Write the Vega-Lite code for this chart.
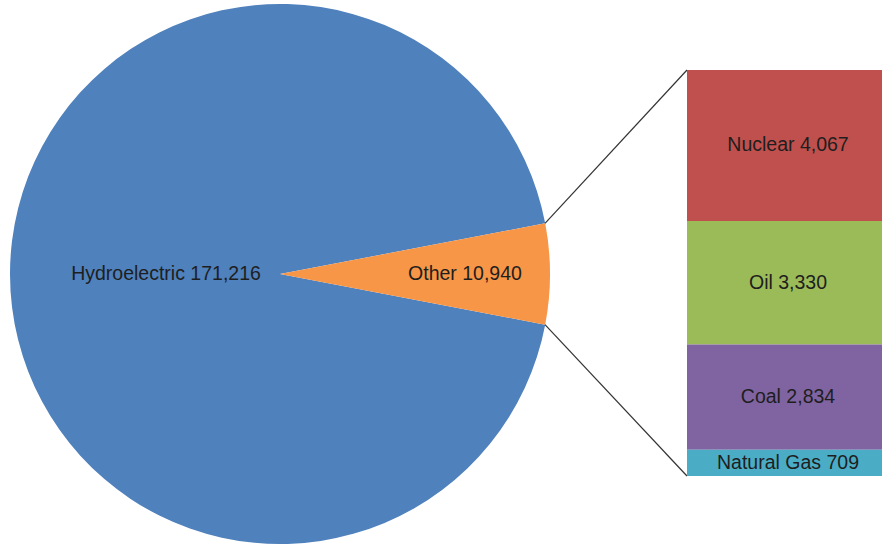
{
  "$schema": "https://vega.github.io/schema/vega-lite/v6.json",
  "padding": 0,
  "spacing": 0,
  "bounds": "flush",
  "background": "#ffffff",
  "config": {
    "view": {"stroke": null},
    "concat": {"spacing": 0},
    "text": {"font": "Liberation Sans", "fontSize": 19.5, "color": "#1e1e1e"}
  },
  "datasets": {
    "sources": [
      {"source": "Hydroelectric", "value": 171216},
      {"source": "Other", "value": 10940}
    ],
    "other": [
      {"source": "Nuclear", "value": 4067},
      {"source": "Oil", "value": 3330},
      {"source": "Coal", "value": 2834},
      {"source": "Natural Gas", "value": 709}
    ]
  },
  "hconcat": [
    {
      "width": 560,
      "height": 548,
      "data": {"name": "sources"},
      "transform": [{"calculate": "datum.source + ' ' + format(datum.value, ',')", "as": "label"}],
      "encoding": {
        "theta": {"field": "value", "type": "quantitative", "stack": true, "scale": {"range": [1.7595, 8.0427]}},
        "order": {"field": "value", "type": "quantitative", "sort": "descending"}
      },
      "layer": [
        {
          "mark": {"type": "arc", "outerRadius": 270},
          "encoding": {
            "color": {
              "field": "source", "type": "nominal", "legend": null,
              "scale": {
                "domain": ["Hydroelectric", "Other", "Nuclear", "Oil", "Coal", "Natural Gas"],
                "range": ["#4f81bd", "#f79646", "#c0504d", "#9bbb59", "#8064a2", "#4bacc6"]
              }
            }
          }
        },
        {
          "mark": {"type": "text", "radius": 114},
          "encoding": {
            "text": {"condition": {"test": "datum.source === 'Hydroelectric'", "field": "label", "type": "nominal"}, "value": ""}
          }
        },
        {
          "mark": {"type": "text", "radius": 185},
          "encoding": {
            "text": {"condition": {"test": "datum.source === 'Other'", "field": "label", "type": "nominal"}, "value": ""}
          }
        }
      ]
    },
    {
      "width": 322,
      "height": 544,
      "layer": [
        {
          "data": {"name": "sources"},
          "transform": [{"filter": "datum.source === 'Other'"}],
          "mark": {"type": "rule", "color": "#333333", "strokeWidth": 1.2},
          "encoding": {
            "y": {"field": "value", "type": "quantitative", "scale": {"domain": [-1832, 12826.5], "nice": false, "zero": false}, "axis": null},
            "y2": {"datum": 6807},
            "x": {"datum": 127, "type": "quantitative", "scale": {"domain": [0, 322], "nice": false, "zero": false}, "axis": null},
            "x2": {"datum": -15}
          }
        },
        {
          "data": {"name": "sources"},
          "transform": [{"filter": "datum.source === 'Other'"}],
          "mark": {"type": "rule", "color": "#333333", "strokeWidth": 1.2},
          "encoding": {
            "y": {"datum": 0, "type": "quantitative", "scale": {"domain": [-1832, 12826.5], "nice": false, "zero": false}, "axis": null},
            "y2": {"datum": 4080},
            "x": {"datum": 127, "type": "quantitative", "scale": {"domain": [0, 322], "nice": false, "zero": false}, "axis": null},
            "x2": {"datum": -15}
          }
        },
        {
          "data": {"name": "other"},
          "transform": [
            {"stack": "value", "groupby": [], "sort": [{"field": "value", "order": "ascending"}], "as": ["value_start", "value_end"]}
          ],
          "mark": {"type": "bar"},
          "encoding": {
            "x": {"datum": 127, "type": "quantitative", "scale": {"domain": [0, 322], "nice": false, "zero": false}, "axis": null},
            "x2": {"datum": 332},
            "y": {"field": "value_start", "type": "quantitative", "scale": {"domain": [-1832, 12826.5], "nice": false, "zero": false}, "axis": null},
            "y2": {"field": "value_end"},
            "color": {
              "field": "source", "type": "nominal", "legend": null,
              "scale": {
                "domain": ["Hydroelectric", "Other", "Nuclear", "Oil", "Coal", "Natural Gas"],
                "range": ["#4f81bd", "#f79646", "#c0504d", "#9bbb59", "#8064a2", "#4bacc6"]
              }
            }
          }
        },
        {
          "data": {"name": "other"},
          "transform": [{"calculate": "datum.source + ' ' + format(datum.value, ',')", "as": "label"}],
          "mark": {"type": "text"},
          "encoding": {
            "x": {"datum": 228, "type": "quantitative", "scale": {"domain": [0, 322], "nice": false, "zero": false}, "axis": null},
            "y": {"field": "value", "type": "quantitative", "stack": "zero", "bandPosition": 0.5, "scale": {"domain": [-1832, 12826.5], "nice": false, "zero": false}, "axis": null},
            "order": {"field": "value", "type": "quantitative", "sort": "ascending"},
            "text": {"field": "label", "type": "nominal"}
          }
        }
      ]
    }
  ]
}
